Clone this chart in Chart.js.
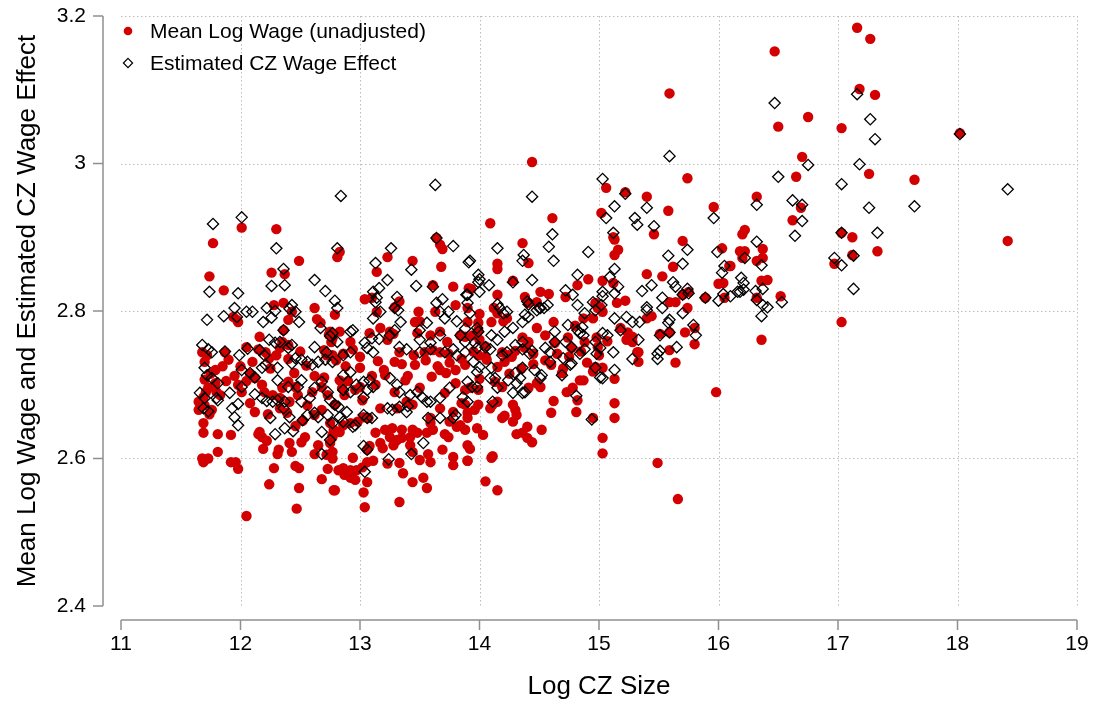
<!DOCTYPE html>
<html>
<head>
<meta charset="utf-8">
<script src="https://cdn.jsdelivr.net/npm/chart.js@4.4.1/dist/chart.umd.min.js"></script>
<style>
  html, body { margin: 0; padding: 0; background: #ffffff; }
  #wrap { width: 1094px; height: 705px; }
</style>
</head>
<body>
<div id="wrap"><canvas id="cz" width="1094" height="705"></canvas></div>
<script>
// Commuting zones: [log CZ size, mean log wage (unadjusted)]
const meanLogWage = [
  [16.47,3.152],[17.16,3.184],[17.27,3.169],[17.18,3.101],[17.31,3.093],[16.75,3.063],[16.50,3.050],[17.03,3.048],
  [18.02,3.041],[16.70,3.009],[16.65,2.982],[17.26,2.986],[17.64,2.978],[16.32,2.955],[15.59,3.095],[14.44,3.002],
  [15.06,2.967],[15.22,2.961],[15.40,2.955],[15.74,2.980],
  [16.69,2.940],[16.62,2.923],[16.22,2.910],[16.20,2.904],[17.03,2.906],[17.12,2.900],[17.33,2.881],[17.12,2.876],
  [16.97,2.864],[18.42,2.895],[16.18,2.881],[16.22,2.881],[16.37,2.884],[16.37,2.872],[16.20,2.872],[16.32,2.868],
  [16.10,2.861],[16.36,2.841],[16.41,2.842],[16.52,2.820],[16.32,2.818],[17.03,2.785],[16.36,2.761],
  [15.98,2.690],[15.49,2.594],[15.66,2.545],[15.13,2.675],[15.13,2.655],[15.03,2.628],[15.03,2.607],[15.64,2.730],
  [15.33,2.731],[15.13,2.708],
  [15.58,2.936],[15.96,2.941],[15.02,2.933],[15.12,2.900],[15.13,2.897],[15.46,2.904],[15.70,2.895],[15.16,2.883],
  [15.13,2.876],[16.03,2.885],[15.62,2.860],[16.09,2.861],[15.40,2.850],[15.53,2.847],[15.03,2.841],[15.12,2.838],
  [16.00,2.837],[16.04,2.838],[15.70,2.822],[15.75,2.826],[15.89,2.818],[16.05,2.818],[15.59,2.812],[15.64,2.812],
  [15.22,2.814],[15.15,2.811],[15.01,2.805],[15.74,2.804],[15.40,2.790],[15.44,2.793],[15.03,2.799],[15.24,2.771],
  [15.28,2.765],[15.23,2.761],[15.28,2.758],[15.33,2.744],[15.32,2.744],[15.59,2.747],[15.72,2.771],[15.80,2.777],
  [15.80,2.755],[15.51,2.769],[15.59,2.771],[15.07,2.759],[15.18,2.777],
  [14.09,2.919],[14.61,2.926],[14.36,2.892],[14.15,2.864],[14.15,2.857],[14.41,2.865],[14.28,2.841],[13.93,2.830],
  [14.15,2.822],[14.51,2.826],[14.58,2.823],[14.38,2.819],[14.41,2.811],[14.48,2.812],[14.72,2.819],[14.82,2.835],
  [14.91,2.843],[14.97,2.811],[14.99,2.804],[13.90,2.804],[14.00,2.796],[14.12,2.804],[14.15,2.797],[13.99,2.784],
  [13.99,2.774],[14.10,2.785],[14.20,2.786],[14.23,2.790],[14.62,2.785],[14.55,2.767],[14.48,2.777],[14.87,2.790],
  [14.95,2.790],[14.80,2.780],[13.88,2.765],[13.94,2.767],[14.00,2.761],[14.36,2.764],[14.41,2.758],[14.38,2.750],
  [14.63,2.757],[14.74,2.764],[14.77,2.750],[14.88,2.758],[14.98,2.764],[14.99,2.751],[14.19,2.744],[14.24,2.740],
  [14.45,2.742],[14.05,2.738],[13.99,2.740],
  [13.64,2.899],[13.67,2.890],[13.69,2.884],[12.81,2.873],[12.83,2.880],[13.23,2.873],[13.44,2.868],[13.68,2.860],
  [13.14,2.853],[13.61,2.835],[13.78,2.833],[13.91,2.831],[13.04,2.816],[13.10,2.818],[13.29,2.805],[13.33,2.813],
  [12.79,2.795],[13.14,2.799],[13.49,2.799],[13.63,2.799],[13.80,2.808],[13.17,2.777],[13.46,2.785],[13.50,2.786],
  [13.67,2.772],[13.73,2.758],[13.08,2.770],[13.25,2.772],[13.28,2.769],[13.23,2.761],[12.75,2.772],[12.77,2.763],
  [12.83,2.772],[12.92,2.758],[12.94,2.748],[12.86,2.742],[13.33,2.744],[13.54,2.744],[13.61,2.747],[13.67,2.744],
  [13.74,2.742],[13.48,2.770],[13.59,2.767],[13.90,2.785],[13.84,2.767],[12.77,2.740],
  [11.77,2.892],[12.01,2.913],[12.30,2.911],[12.49,2.868],[11.74,2.847],[11.86,2.828],[12.26,2.852],[12.37,2.850],
  [12.28,2.808],[12.36,2.811],[12.62,2.804],[11.94,2.792],[11.97,2.788],[11.98,2.785],[12.43,2.799],[12.40,2.788],
  [12.64,2.789],[12.67,2.784],[12.36,2.774],[12.16,2.765],[12.05,2.751],[12.74,2.768],[12.76,2.758],[11.68,2.744],
  [11.72,2.740],[11.87,2.744],[12.35,2.758],[12.40,2.754],[12.33,2.750],[12.21,2.744],[12.24,2.736],[12.70,2.747],
  [12.72,2.740],
  [12.05,2.522],[12.47,2.532],[12.49,2.560],[12.24,2.565],[12.78,2.557],[11.68,2.600],[11.73,2.600],[11.69,2.595],
  [11.81,2.609],[11.92,2.595],[11.96,2.595],[11.98,2.586],[12.28,2.587],[12.46,2.590],[12.49,2.587],[12.73,2.586],
  [12.68,2.572],[12.62,2.606],[12.72,2.605],[12.77,2.600],[12.19,2.613],[12.32,2.612],[12.31,2.606],[12.43,2.609],
  [11.69,2.648],[11.69,2.635],[11.81,2.633],[11.92,2.632],[12.16,2.636],[12.15,2.633],[12.18,2.629],[12.22,2.624],
  [12.41,2.621],[12.51,2.622],[12.54,2.629],[12.65,2.618],[12.75,2.621],[12.77,2.629],[12.78,2.639],[12.08,2.675],
  [12.12,2.663],[12.23,2.660],[12.33,2.668],[12.39,2.662],[12.56,2.672],[12.68,2.666],[12.62,2.659],[12.52,2.651],
  [12.46,2.644],[11.65,2.666],[11.70,2.672],[11.73,2.696],[11.79,2.702],[11.83,2.686],[11.76,2.666],[11.65,2.677],
  [11.69,2.683],[11.98,2.700],[12.01,2.690],[12.12,2.709],[12.18,2.700],[12.20,2.690],[12.27,2.686],[12.35,2.696],
  [12.40,2.704],[12.46,2.697],[12.48,2.686],[12.60,2.690],[12.68,2.697],[12.73,2.686],[12.33,2.682],[12.41,2.677],
  [11.90,2.734],[11.79,2.720],
  [13.04,2.534],[13.33,2.541],[12.79,2.557],[13.03,2.554],[13.56,2.560],[13.53,2.574],[13.44,2.568],[13.06,2.568],
  [13.36,2.580],[12.92,2.574],[12.96,2.571],[12.87,2.578],[12.82,2.584],[12.86,2.587],[12.92,2.584],[12.97,2.584],
  [13.02,2.588],[13.06,2.595],[13.11,2.597],[12.94,2.601],[13.23,2.593],[13.33,2.594],[13.50,2.598],[13.59,2.595],
  [13.57,2.606],[13.69,2.612],[13.78,2.602],[13.78,2.591],[13.90,2.597],[12.75,2.605],[12.77,2.609],
  [13.17,2.621],[13.19,2.614],[13.28,2.618],[13.31,2.625],[13.42,2.618],[13.44,2.609],[13.06,2.612],[13.08,2.617],
  [13.13,2.635],[13.21,2.639],[13.27,2.641],[13.35,2.639],[13.44,2.639],[13.48,2.635],[13.25,2.629],[13.35,2.628],
  [13.42,2.629],[13.56,2.635],[13.61,2.639],[13.71,2.633],[13.74,2.629],[12.83,2.636],[12.86,2.645],[12.92,2.648],
  [12.75,2.648],[12.77,2.632],[12.98,2.650],[13.03,2.656],[13.07,2.655],
  [13.17,2.668],[13.31,2.668],[13.39,2.677],[13.44,2.673],[13.67,2.668],[13.78,2.663],[13.85,2.675],[13.90,2.655],
  [13.84,2.645],[13.59,2.655],[13.59,2.648],[13.75,2.650],[13.81,2.643],
  [12.83,2.706],[12.87,2.686],[12.79,2.673],[12.96,2.693],[13.02,2.679],[13.13,2.700],[13.21,2.713],[13.29,2.690],
  [13.38,2.706],[13.50,2.696],[13.60,2.711],[13.71,2.689],[13.80,2.702],[13.88,2.693],[13.46,2.727],[13.67,2.720],
  [13.00,2.723],[13.29,2.731],
  [14.05,2.569],[14.15,2.557],[14.10,2.601],[14.11,2.603],[13.90,2.597],[13.90,2.618],[13.92,2.613],[13.88,2.639],
  [13.98,2.641],[14.03,2.632],[14.40,2.643],[14.36,2.635],[14.40,2.628],[14.44,2.622],[14.31,2.633],[14.52,2.639],
  [14.28,2.650],[14.19,2.655],[14.21,2.658],[14.31,2.659],[14.60,2.662],[14.81,2.663],[14.62,2.678],[13.90,2.662],
  [13.88,2.673],[13.99,2.673],[13.96,2.666],[14.11,2.673],[14.09,2.668],[14.15,2.677],[14.28,2.673],[14.30,2.666],
  [14.73,2.690],[14.78,2.696],[14.82,2.679],[14.84,2.706],[14.87,2.706],[13.92,2.696],[13.99,2.693],[14.95,2.655],
  [14.97,2.724],[15.03,2.723],[14.48,2.702],[14.51,2.697],[14.41,2.696],[14.60,2.727],[14.69,2.716],[14.13,2.704],
  [14.19,2.697],[14.21,2.731],[14.27,2.738],[14.06,2.734],[13.88,2.727],
  [12.10,2.731],[12.25,2.722],[12.45,2.716],[12.55,2.726],[12.62,2.712],[12.80,2.733],[12.88,2.725],[13.00,2.738],
  [13.15,2.732],[13.20,2.720],[13.35,2.728],[13.45,2.740],[13.55,2.733],[13.65,2.725],[13.72,2.716],[13.85,2.735],
  [13.95,2.745],[14.05,2.752],[14.15,2.724],[14.30,2.746],[14.35,2.722],[14.55,2.733],[14.65,2.742],[14.75,2.738],
  [14.90,2.730],[15.00,2.740],[11.75,2.715],[11.85,2.725],[11.95,2.712],[12.00,2.725],[11.70,2.731],[12.40,2.735],
  [12.50,2.745],[12.15,2.748],[12.30,2.740],[12.90,2.705],[13.10,2.712],[13.40,2.712],[13.75,2.730],[14.45,2.728],
  [14.70,2.722],[14.85,2.745],[14.95,2.718],[14.25,2.715],[14.00,2.708],[13.80,2.720],[13.00,2.697],[12.70,2.710],
  [12.85,2.695],[11.80,2.690],[11.88,2.705],[12.05,2.705],[12.08,2.715],[11.70,2.707],[11.74,2.660],[11.71,2.690]
];

// Commuting zones: [log CZ size, estimated CZ wage effect]
const czWageEffect = [
  [16.47,3.082],[17.16,3.094],[17.27,3.060],[17.31,3.033],[18.02,3.040],[16.75,2.998],[17.18,2.999],[16.50,2.982],
  [17.03,2.972],[18.42,2.965],[16.62,2.950],[13.63,2.971],[12.84,2.956],[14.44,2.955],[15.03,2.979],[15.22,2.959],
  [15.59,3.010],
  [16.32,2.944],[16.70,2.944],[17.26,2.940],[17.64,2.942],[16.70,2.922],[16.64,2.902],[17.03,2.906],[17.33,2.906],
  [16.32,2.894],[16.97,2.872],[17.03,2.862],[17.13,2.875],[17.13,2.830],[16.22,2.872],[16.36,2.862],[16.19,2.845],
  [16.21,2.838],[16.18,2.826],[16.21,2.829],[16.10,2.820],[16.31,2.827],[16.37,2.830],[16.32,2.815],[16.37,2.808],
  [16.41,2.805],[16.53,2.812],[16.36,2.793],
  [15.28,2.735],[15.49,2.735],[15.13,2.720],[15.03,2.709],
  [15.13,2.942],[15.06,2.926],[15.40,2.940],[15.30,2.926],[15.32,2.917],[15.46,2.915],[15.96,2.926],[15.12,2.906],
  [15.74,2.883],[15.58,2.875],[15.70,2.864],[15.99,2.880],[16.05,2.861],[16.03,2.852],[15.13,2.857],[15.09,2.846],
  [15.16,2.833],[15.13,2.824],[15.03,2.826],[15.36,2.827],[15.44,2.835],[15.62,2.839],[15.64,2.833],[15.74,2.830],
  [15.75,2.824],[15.70,2.822],[15.89,2.818],[16.00,2.814],[16.04,2.823],[16.16,2.826],[15.53,2.818],[15.40,2.805],
  [15.40,2.801],[15.53,2.804],[15.70,2.797],[15.13,2.790],[15.23,2.792],[15.28,2.785],[15.34,2.785],[15.59,2.788],
  [15.58,2.784],[15.79,2.781],[15.81,2.767],[15.51,2.767],[15.59,2.771],[15.65,2.751],[15.18,2.774],[15.07,2.767],
  [15.03,2.770],[15.33,2.761],[15.51,2.746],[15.49,2.742],[15.12,2.744],
  [14.61,2.904],[14.58,2.887],[14.15,2.885],[14.37,2.876],[14.36,2.868],[14.62,2.868],[14.91,2.880],[13.92,2.868],
  [13.99,2.849],[14.00,2.843],[13.99,2.839],[14.08,2.835],[14.28,2.839],[14.44,2.842],[14.82,2.849],[14.72,2.828],
  [14.78,2.822],[13.90,2.822],[14.00,2.826],[15.03,2.820],[14.95,2.812],[14.97,2.801],[15.02,2.808],[14.40,2.813],
  [14.41,2.809],[14.57,2.808],[14.54,2.804],[14.50,2.804],[14.82,2.808],[14.88,2.797],[13.92,2.797],[14.15,2.809],
  [14.17,2.804],[14.20,2.797],[14.23,2.799],[14.38,2.795],[14.41,2.792],[14.48,2.801],[14.51,2.804],[14.36,2.785],
  [14.28,2.777],[14.21,2.772],[14.10,2.767],[14.15,2.761],[13.98,2.777],[13.99,2.772],[14.63,2.772],[14.74,2.781],
  [14.82,2.774],[14.86,2.778],[14.84,2.770],[14.87,2.767],[13.88,2.758],[13.96,2.757],[13.98,2.750],[14.05,2.751],
  [14.09,2.748],[14.30,2.754],[14.36,2.758],[14.36,2.748],[14.44,2.746],[14.42,2.742],[14.55,2.750],[14.59,2.744],
  [14.63,2.758],[14.72,2.758],[14.77,2.751],[14.84,2.742],[14.88,2.748],[14.97,2.758],[15.01,2.750],[14.98,2.742],
  [14.19,2.740],[14.23,2.744],
  [12.81,2.885],[13.26,2.885],[13.64,2.899],[13.78,2.888],[13.91,2.866],[13.13,2.865],[13.43,2.856],[13.23,2.842],
  [13.47,2.834],[13.61,2.833],[13.16,2.831],[13.11,2.826],[13.14,2.818],[13.13,2.812],[12.79,2.814],[12.81,2.804],
  [13.31,2.819],[13.32,2.801],[13.29,2.804],[13.69,2.816],[13.64,2.811],[13.67,2.799],[13.89,2.822],[13.90,2.811],
  [13.11,2.790],[13.17,2.799],[13.34,2.785],[13.56,2.784],[13.50,2.774],[13.74,2.799],[13.71,2.790],[13.81,2.786],
  [13.88,2.776],[13.84,2.767],[12.92,2.772],[12.94,2.774],[13.10,2.763],[13.04,2.757],[13.16,2.762],[12.77,2.770],
  [12.81,2.758],[12.75,2.766],[13.25,2.767],[13.29,2.774],[13.50,2.761],[13.59,2.757],[13.67,2.767],[13.39,2.748],
  [13.33,2.751],[13.06,2.750],[13.11,2.744],[13.50,2.744],[13.59,2.748],[13.71,2.744],[13.78,2.748],[13.81,2.740],
  [13.88,2.744],[12.92,2.744],[12.86,2.740],
  [11.77,2.918],[12.01,2.927],[12.30,2.885],[12.36,2.857],[12.26,2.834],[12.37,2.835],[12.62,2.842],[12.71,2.827],
  [11.74,2.826],[11.98,2.824],[11.95,2.804],[11.86,2.793],[11.72,2.788],[12.05,2.799],[12.10,2.799],[12.22,2.804],
  [12.29,2.800],[12.26,2.791],[12.43,2.808],[12.41,2.803],[12.46,2.799],[12.49,2.785],[12.19,2.785],[11.97,2.792],
  [12.36,2.774],[12.67,2.777],[12.62,2.751],[12.72,2.744],[12.24,2.761],[12.29,2.757],[12.33,2.758],[12.40,2.750],
  [12.43,2.754],[12.16,2.747],[12.20,2.740],[12.06,2.749],[11.87,2.745],[11.99,2.740],[11.68,2.754],[11.76,2.744],
  [11.73,2.748],
  [11.70,2.723],[11.72,2.713],[11.76,2.709],[11.81,2.702],[11.66,2.689],[11.70,2.682],[11.69,2.668],[11.73,2.664],
  [11.80,2.682],[11.81,2.679],[11.91,2.689],[11.93,2.668],[11.98,2.674],[11.95,2.656],[11.98,2.645],[12.01,2.720],
  [12.01,2.697],[12.08,2.716],[12.12,2.710],[12.18,2.723],[12.21,2.727],[12.31,2.723],[12.31,2.706],[12.40,2.697],
  [12.48,2.697],[12.51,2.706],[12.12,2.687],[12.18,2.682],[12.22,2.678],[12.27,2.677],[12.31,2.679],[12.37,2.677],
  [12.36,2.668],[12.25,2.655],[12.29,2.633],[12.37,2.641],[12.41,2.656],[12.44,2.637],[12.52,2.652],[12.56,2.659],
  [12.62,2.662],[12.65,2.656],[12.68,2.636],[12.51,2.677],[12.58,2.682],[12.62,2.696],[12.68,2.704],[12.73,2.690],
  [12.68,2.606],[12.77,2.648],[12.73,2.659],[12.43,2.729],[12.46,2.736],[12.51,2.734],[12.56,2.731],[12.60,2.727],
  [12.65,2.731],[12.71,2.734],[12.77,2.731],
  [13.04,2.582],[13.24,2.599],[13.43,2.606],[13.53,2.621],[13.03,2.617],[13.06,2.612],[12.75,2.625],[12.86,2.650],
  [12.96,2.645],[12.94,2.643],[12.83,2.656],[12.89,2.663],[13.03,2.659],[13.06,2.655],[13.10,2.655],[12.75,2.679],
  [12.79,2.673],[12.82,2.670],[12.86,2.693],[12.92,2.690],[13.03,2.683],[13.06,2.693],[13.11,2.697],[13.23,2.668],
  [13.27,2.666],[13.33,2.670],[13.40,2.671],[13.39,2.663],[13.57,2.655],[13.67,2.655],[13.78,2.655],[13.80,2.659],
  [13.52,2.683],[13.56,2.677],[13.59,2.677],[13.67,2.682],[13.75,2.696],[13.86,2.683],[13.25,2.709],[13.31,2.700],
  [13.33,2.690],[13.42,2.686],[13.48,2.690],[12.86,2.713],[12.92,2.717],[12.97,2.700],[13.03,2.704],[13.08,2.706],
  [14.94,2.653],[14.81,2.685],[14.11,2.677],[13.90,2.677],[14.15,2.696],[14.28,2.689],[14.36,2.689],[14.38,2.690],
  [14.24,2.706],[14.31,2.702],[14.34,2.709],[14.36,2.723],[14.30,2.716],[14.51,2.709],[14.52,2.713],[14.46,2.720],
  [14.69,2.713],[14.59,2.731],[14.76,2.727],[14.77,2.729],[14.70,2.736],[15.01,2.710],[14.97,2.723],[13.95,2.731],
  [14.00,2.724],[13.98,2.717],[14.10,2.723],[14.09,2.709],[14.13,2.709],[13.94,2.697],[13.98,2.697],[13.90,2.704]
];

const xTicks = [11, 12, 13, 14, 15, 16, 17, 18, 19];
const yTicks = [2.4, 2.6, 2.8, 3.0, 3.2];

const RED = '#d20000';
const FONT = 'Liberation Sans, Arial, Helvetica, sans-serif';

// Stata-style frame: dotted grid, detached axis lines with outward ticks, inset legend
const stataFrame = {
  id: 'stataFrame',
  beforeDatasetsDraw(chart) {
    const { ctx, scales: { x, y } } = chart;
    const x0 = x.getPixelForValue(xTicks[0]);
    const x1 = x.getPixelForValue(xTicks[xTicks.length - 1]);
    const y0 = y.getPixelForValue(yTicks[0]);
    const y1 = y.getPixelForValue(yTicks[yTicks.length - 1]);
    ctx.save();
    ctx.lineWidth = 1;
    ctx.strokeStyle = '#bdbdbd';
    ctx.setLineDash([1.5, 2.5]);
    yTicks.slice(1).forEach(v => {
      const p = Math.round(y.getPixelForValue(v)) + 0.5;
      ctx.beginPath(); ctx.moveTo(x0, p); ctx.lineTo(x1, p); ctx.stroke();
    });
    xTicks.slice(1).forEach(v => {
      const p = Math.round(x.getPixelForValue(v)) + 0.5;
      ctx.beginPath(); ctx.moveTo(p, y1); ctx.lineTo(p, y0); ctx.stroke();
    });
    ctx.setLineDash([]);
    ctx.strokeStyle = '#8f8f8f';
    ctx.lineWidth = 1.5;
    // y axis
    const ax = x0 - 18;
    ctx.beginPath(); ctx.moveTo(ax, y1); ctx.lineTo(ax, y0); ctx.stroke();
    yTicks.forEach(v => {
      const p = y.getPixelForValue(v);
      ctx.beginPath(); ctx.moveTo(ax - 10, p); ctx.lineTo(ax, p); ctx.stroke();
    });
    // x axis
    const ay = y0 + 14;
    ctx.beginPath(); ctx.moveTo(x0, ay); ctx.lineTo(x1, ay); ctx.stroke();
    xTicks.forEach(v => {
      const p = x.getPixelForValue(v);
      ctx.beginPath(); ctx.moveTo(p, ay); ctx.lineTo(p, ay + 10); ctx.stroke();
    });
    ctx.restore();
  },
  afterDraw(chart) {
    const { ctx, chartArea } = chart;
    const mx = chartArea.left + 7;
    const tx = chartArea.left + 29;
    const row1 = chartArea.top + 15;
    const row2 = row1 + 32;
    ctx.save();
    ctx.font = '21px ' + FONT;
    ctx.fillStyle = '#000000';
    ctx.textBaseline = 'middle';
    ctx.textAlign = 'left';
    chart.data.datasets.forEach((ds, i) => {
      const cy = i === 0 ? row1 : row2;
      ctx.beginPath();
      if (ds.pointStyle === 'circle') {
        ctx.fillStyle = ds.backgroundColor;
        ctx.arc(mx, cy, 4.3, 0, Math.PI * 2);
        ctx.fill();
      } else {
        const r = 4.6;
        ctx.strokeStyle = ds.borderColor;
        ctx.lineWidth = 1.2;
        ctx.moveTo(mx, cy - r); ctx.lineTo(mx + r, cy); ctx.lineTo(mx, cy + r); ctx.lineTo(mx - r, cy);
        ctx.closePath();
        ctx.stroke();
      }
      ctx.fillStyle = '#000000';
      ctx.fillText(ds.label, tx, cy + 1);
    });
    ctx.restore();
  }
};

const toPoints = rows => rows.map(r => ({ x: r[0], y: r[1] }));

new Chart(document.getElementById('cz'), {
  type: 'scatter',
  data: {
    datasets: [
      {
        label: 'Mean Log Wage (unadjusted)',
        data: toPoints(meanLogWage),
        pointStyle: 'circle',
        pointRadius: 5.2,
        backgroundColor: RED,
        borderColor: RED,
        borderWidth: 0,
        order: 1
      },
      {
        label: 'Estimated CZ Wage Effect',
        data: toPoints(czWageEffect),
        pointStyle: 'rectRot',
        pointRadius: 5.6,
        backgroundColor: 'rgba(0,0,0,0)',
        borderColor: '#000000',
        borderWidth: 1.3,
        order: 0
      }
    ]
  },
  options: {
    responsive: false,
    devicePixelRatio: 1,
    animation: false,
    layout: { padding: { left: 0, top: 16, right: 17, bottom: 0 } },
    plugins: {
      tooltip: { enabled: false },
      legend: { display: false }
    },
    scales: {
      x: {
        type: 'linear',
        min: 11,
        max: 19,
        afterBuildTicks: s => { s.ticks = xTicks.map(v => ({ value: v })); },
        afterFit: s => { s.height = 99; s.paddingLeft = 0; s.paddingRight = 0; },
        grid: { display: false, drawTicks: false },
        border: { display: false },
        ticks: {
          padding: 26,
          maxRotation: 0,
          autoSkip: false,
          color: '#000000',
          font: { family: FONT, size: 21 }
        },
        title: {
          display: true,
          text: 'Log CZ Size',
          color: '#000000',
          padding: { top: 0, bottom: 3 },
          font: { family: FONT, size: 26 }
        }
      },
      y: {
        type: 'linear',
        min: 2.4,
        max: 3.2,
        afterBuildTicks: s => { s.ticks = yTicks.map(v => ({ value: v })); },
        afterFit: s => { s.width = 121; s.paddingTop = 0; s.paddingBottom = 0; },
        grid: { display: false, drawTicks: false },
        border: { display: false },
        ticks: {
          padding: 35,
          color: '#000000',
          callback: v => String(Number(Number(v).toFixed(1))),
          font: { family: FONT, size: 21 }
        },
        title: {
          display: true,
          text: 'Mean Log Wage and Estimated CZ Wage Effect',
          color: '#000000',
          padding: { top: 12, bottom: 0 },
          font: { family: FONT, size: 26 }
        }
      }
    }
  },
  plugins: [stataFrame]
});
</script>
</body>
</html>
